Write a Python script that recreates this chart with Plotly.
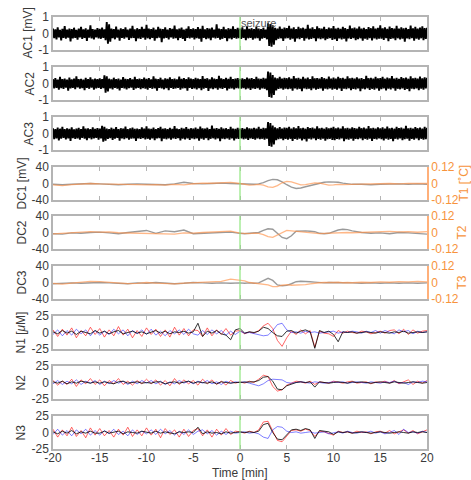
import plotly.graph_objects as go

# ---------------- data ----------------
# AC signals: local maxima (hi) and minima (lo) per 0.25-min bin, from -20 to 20 min [mV]
ac_start, ac_step, ac_n = -20.0, 0.25, 161
t_ac = [ac_start + ac_step * i for i in range(ac_n)]
ac_half = ac_step / 2  # minimum sits between consecutive maxima

ac1_hi = [0.30,0.25,0.38,0.22,0.28,0.45,0.24,0.30,0.26,0.35,0.22,0.29,0.40,0.25,0.31,0.23,0.50,0.27,0.24,0.33,
          0.28,0.36,0.25,0.70,0.55,0.30,0.26,0.42,0.24,0.31,0.27,0.38,0.23,0.29,0.46,0.25,0.32,0.26,0.40,0.28,
          0.52,0.30,0.27,0.35,0.24,0.41,0.29,0.26,0.37,0.23,0.33,0.28,0.48,0.25,0.30,0.36,0.24,0.29,0.43,0.27,
          0.31,0.26,0.39,0.28,0.47,0.25,0.33,0.29,0.36,0.24,0.55,0.30,0.27,0.41,0.25,0.32,0.28,0.44,0.26,0.34,
          0.29,0.37,0.25,0.43,0.28,0.32,0.26,0.39,0.30,0.27,0.35,0.24,0.62,0.58,0.50,0.35,0.30,0.42,0.28,0.36,
          0.33,0.46,0.29,0.38,0.27,0.41,0.31,0.35,0.28,0.52,0.30,0.37,0.26,0.44,0.32,0.29,0.40,0.27,0.36,0.31,
          0.45,0.30,0.34,0.28,0.40,0.33,0.27,0.48,0.31,0.36,0.29,0.42,0.30,0.35,0.27,0.39,0.32,0.44,0.29,0.34,
          0.50,0.31,0.37,0.28,0.42,0.33,0.30,0.46,0.29,0.38,0.32,0.35,0.27,0.48,0.31,0.40,0.29,0.36,0.44,0.33,
          0.35]
ac1_lo = [-0.28,-0.36,-0.24,-0.42,-0.27,-0.31,-0.25,-0.48,-0.29,-0.26,-0.38,-0.23,-0.33,-0.27,-0.45,-0.25,-0.30,-0.36,-0.24,-0.29,
          -0.32,-0.26,-0.40,-0.62,-0.50,-0.28,-0.35,-0.25,-0.44,-0.27,-0.31,-0.24,-0.39,-0.28,-0.26,-0.47,-0.29,-0.33,-0.25,-0.37,
          -0.29,-0.34,-0.26,-0.43,-0.28,-0.25,-0.52,-0.30,-0.27,-0.36,-0.24,-0.31,-0.28,-0.40,-0.26,-0.33,-0.45,-0.27,-0.30,-0.25,
          -0.36,-0.28,-0.31,-0.49,-0.26,-0.34,-0.29,-0.41,-0.25,-0.30,-0.27,-0.38,-0.32,-0.26,-0.46,-0.29,-0.35,-0.27,-0.31,-0.28,
          -0.33,-0.27,-0.40,-0.29,-0.26,-0.37,-0.30,-0.28,-0.44,-0.31,-0.27,-0.35,-0.75,-0.80,-0.68,-0.40,-0.32,-0.29,-0.45,-0.30,
          -0.28,-0.38,-0.31,-0.50,-0.29,-0.34,-0.27,-0.43,-0.30,-0.36,-0.33,-0.28,-0.47,-0.30,-0.35,-0.29,-0.41,-0.32,-0.28,-0.39,
          -0.34,-0.45,-0.29,-0.36,-0.31,-0.48,-0.30,-0.33,-0.28,-0.40,-0.35,-0.29,-0.44,-0.31,-0.37,-0.28,-0.42,-0.30,-0.36,-0.32,
          -0.31,-0.39,-0.28,-0.46,-0.33,-0.30,-0.41,-0.29,-0.36,-0.32,-0.50,-0.30,-0.34,-0.28,-0.43,-0.31,-0.37,-0.29,-0.40,-0.33,
          -0.31]
ac2_hi = [0.26,0.32,0.24,0.40,0.27,0.29,0.23,0.36,0.25,0.30,0.43,0.26,0.28,0.24,0.34,0.27,0.38,0.25,0.29,0.26,
          0.31,0.27,0.50,0.44,0.29,0.25,0.35,0.27,0.30,0.24,0.39,0.28,0.26,0.33,0.25,0.41,0.27,0.30,0.26,0.36,
          0.28,0.33,0.25,0.44,0.29,0.27,0.35,0.24,0.31,0.28,0.38,0.26,0.30,0.25,0.42,0.28,0.32,0.26,0.37,0.29,
          0.27,0.35,0.30,0.26,0.45,0.28,0.32,0.25,0.38,0.29,0.27,0.47,0.31,0.26,0.34,0.28,0.40,0.27,0.30,0.33,
          0.28,0.31,0.26,0.36,0.29,0.33,0.27,0.40,0.30,0.28,0.34,0.29,0.72,0.66,0.52,0.36,0.31,0.40,0.29,0.35,
          0.32,0.38,0.29,0.45,0.31,0.34,0.28,0.40,0.30,0.36,0.27,0.43,0.31,0.33,0.29,0.39,0.32,0.28,0.42,0.30,
          0.36,0.29,0.41,0.32,0.35,0.28,0.44,0.31,0.34,0.29,0.38,0.30,0.33,0.27,0.46,0.32,0.35,0.29,0.40,0.31,
          0.33,0.40,0.29,0.36,0.31,0.45,0.30,0.34,0.28,0.39,0.32,0.36,0.29,0.43,0.31,0.35,0.30,0.42,0.32,0.37,
          0.34]
ac2_lo = [-0.30,-0.26,-0.38,-0.28,-0.33,-0.25,-0.44,-0.29,-0.27,-0.35,-0.24,-0.31,-0.28,-0.40,-0.26,-0.32,-0.25,-0.37,-0.29,-0.27,
          -0.33,-0.28,-0.55,-0.48,-0.30,-0.36,-0.27,-0.31,-0.42,-0.26,-0.29,-0.35,-0.28,-0.25,-0.39,-0.30,-0.27,-0.34,-0.28,-0.31,
          -0.38,-0.27,-0.32,-0.29,-0.44,-0.26,-0.30,-0.35,-0.28,-0.41,-0.27,-0.33,-0.29,-0.26,-0.37,-0.30,-0.28,-0.43,-0.27,-0.32,
          -0.29,-0.36,-0.28,-0.40,-0.31,-0.27,-0.45,-0.30,-0.34,-0.28,-0.38,-0.29,-0.33,-0.27,-0.42,-0.31,-0.29,-0.36,-0.28,-0.30,
          -0.31,-0.28,-0.35,-0.30,-0.39,-0.29,-0.33,-0.28,-0.37,-0.30,-0.32,-0.41,-0.82,-0.86,-0.70,-0.42,-0.33,-0.30,-0.38,-0.31,
          -0.35,-0.31,-0.43,-0.30,-0.36,-0.32,-0.46,-0.29,-0.34,-0.31,-0.40,-0.30,-0.37,-0.33,-0.29,-0.44,-0.31,-0.35,-0.30,-0.38,
          -0.32,-0.37,-0.30,-0.45,-0.31,-0.34,-0.29,-0.41,-0.33,-0.36,-0.30,-0.47,-0.31,-0.35,-0.29,-0.39,-0.32,-0.37,-0.30,-0.43,
          -0.34,-0.30,-0.42,-0.31,-0.36,-0.29,-0.44,-0.32,-0.35,-0.30,-0.39,-0.33,-0.46,-0.31,-0.34,-0.29,-0.41,-0.32,-0.37,-0.30,
          -0.33]
ac3_hi = [0.32,0.27,0.36,0.29,0.41,0.26,0.31,0.28,0.38,0.25,0.30,0.34,0.27,0.44,0.29,0.31,0.26,0.37,0.28,0.33,
          0.29,0.46,0.40,0.30,0.27,0.35,0.28,0.39,0.26,0.32,0.29,0.42,0.27,0.31,0.36,0.28,0.30,0.26,0.38,0.29,
          0.44,0.30,0.28,0.36,0.27,0.33,0.40,0.29,0.31,0.26,0.35,0.28,0.45,0.30,0.27,0.34,0.29,0.39,0.28,0.32,
          0.30,0.36,0.28,0.42,0.31,0.29,0.35,0.27,0.48,0.30,0.33,0.28,0.38,0.29,0.32,0.27,0.41,0.30,0.28,0.34,
          0.30,0.33,0.28,0.37,0.31,0.29,0.35,0.30,0.40,0.28,0.34,0.31,0.70,0.64,0.48,0.37,0.32,0.39,0.30,0.36,
          0.34,0.41,0.30,0.37,0.32,0.45,0.31,0.35,0.29,0.39,0.33,0.36,0.30,0.43,0.32,0.34,0.29,0.38,0.31,0.35,
          0.40,0.31,0.36,0.29,0.43,0.32,0.35,0.30,0.38,0.33,0.29,0.41,0.32,0.36,0.30,0.45,0.31,0.34,0.29,0.37,
          0.31,0.38,0.30,0.42,0.32,0.35,0.29,0.40,0.33,0.36,0.30,0.47,0.31,0.34,0.29,0.39,0.32,0.36,0.30,0.41,
          0.35]
ac3_lo = [-0.34,-0.29,-0.42,-0.31,-0.27,-0.36,-0.30,-0.45,-0.28,-0.33,-0.29,-0.38,-0.27,-0.31,-0.40,-0.28,-0.35,-0.30,-0.27,-0.37,
          -0.30,-0.50,-0.44,-0.33,-0.28,-0.39,-0.31,-0.27,-0.43,-0.30,-0.34,-0.28,-0.37,-0.31,-0.29,-0.45,-0.30,-0.33,-0.28,-0.36,
          -0.32,-0.37,-0.29,-0.41,-0.30,-0.28,-0.47,-0.31,-0.35,-0.29,-0.38,-0.30,-0.33,-0.28,-0.42,-0.31,-0.36,-0.29,-0.39,-0.30,
          -0.35,-0.30,-0.44,-0.31,-0.37,-0.28,-0.40,-0.32,-0.29,-0.36,-0.30,-0.46,-0.31,-0.34,-0.29,-0.38,-0.30,-0.42,-0.31,-0.33,
          -0.30,-0.35,-0.31,-0.39,-0.29,-0.33,-0.37,-0.30,-0.34,-0.32,-0.38,-0.31,-0.76,-0.80,-0.66,-0.41,-0.34,-0.31,-0.40,-0.33,
          -0.37,-0.32,-0.45,-0.33,-0.38,-0.31,-0.42,-0.34,-0.48,-0.32,-0.36,-0.30,-0.40,-0.33,-0.37,-0.31,-0.44,-0.34,-0.32,-0.39,
          -0.41,-0.33,-0.36,-0.30,-0.46,-0.34,-0.38,-0.31,-0.43,-0.33,-0.35,-0.30,-0.40,-0.32,-0.37,-0.31,-0.45,-0.33,-0.36,-0.30,
          -0.35,-0.42,-0.31,-0.38,-0.33,-0.47,-0.32,-0.36,-0.30,-0.40,-0.34,-0.31,-0.44,-0.33,-0.37,-0.30,-0.41,-0.32,-0.38,-0.34,
          -0.32]

# DC potentials [mV] and temperatures [deg C]
t_dc = [-20,-19,-18,-17,-16,-15,-14,-13,-12,-11,-10,-9,-8,-7,-6,-5,-4,-3,-2,-1,0,
        0.5,1,1.5,2,2.5,3,3.5,4,4.5,5,5.5,6,6.5,7,7.5,8,8.5,9,9.5,10,10.5,11,11.5,12,
        13,14,15,16,17,18,19,20]
dc1 = [-2,-3,-2,-1,0,-1,-2,-3,-2,-1,-2,-3,-3,-1,3,0,-1,0,1,0,-1,
       -1,-2,-2,-1,2,7,10,9,4,-3,-9,-12,-11,-8,-5,-2,1,3,4,4,3,1,-1,-2,
       -2,-3,-2,-1,-1,-2,-1,-2]
t1 = [-0.010,-0.015,-0.008,-0.002,0.000,-0.003,-0.005,-0.006,-0.004,-0.007,-0.010,-0.008,-0.012,-0.006,-0.010,-0.002,0.003,0.002,0.005,0.008,0.000,
      -0.008,-0.012,-0.010,-0.006,-0.012,-0.025,-0.028,-0.015,0.005,0.015,0.012,0.000,-0.010,-0.008,-0.002,0.005,0.002,-0.005,-0.012,-0.010,-0.006,-0.008,-0.005,-0.006,
      -0.004,-0.005,-0.002,0.000,-0.003,0.001,-0.002,0.000]
dc2 = [-3,-4,-1,-2,0,1,-1,-3,0,3,5,-2,4,2,6,-3,-2,-1,0,1,-2,
       -3,-2,-1,0,5,9,8,-2,-12,-15,-8,3,4,4,3,2,-2,-3,-2,2,6,8,7,4,
       0,-2,-1,-3,0,-1,-2,-4]
t2 = [-0.010,-0.006,0.000,0.004,0.006,0.003,0.005,-0.002,-0.004,-0.006,-0.004,-0.010,-0.008,-0.012,-0.003,-0.005,0.000,0.004,0.006,0.010,-0.004,
      -0.006,-0.008,-0.004,-0.006,-0.015,-0.030,-0.035,-0.020,0.000,0.015,0.012,0.008,0.006,0.004,0.000,-0.004,-0.008,-0.006,-0.004,-0.002,0.000,0.002,0.000,-0.002,
      0.000,0.004,0.006,0.008,0.004,0.006,0.002,0.006]
dc3 = [-3,-2,-1,-2,-1,0,-1,-2,-3,-1,-2,0,-1,-3,-2,0,-1,-2,-1,-2,-1,
       -2,-1,-2,-1,4,10,5,-6,-8,-7,-3,2,3,3,2,1,0,-1,0,0,-1,-1,0,-1,
       -2,-1,-2,-1,-2,-1,-2,-1]
t3 = [-0.006,-0.012,-0.004,0.004,0.008,0.006,0.002,-0.004,-0.008,-0.006,0.000,-0.004,-0.008,-0.010,-0.004,0.000,0.004,0.006,0.008,0.025,0.015,
      0.012,0.000,-0.004,-0.008,-0.010,-0.018,-0.030,-0.030,-0.020,-0.015,-0.020,-0.018,-0.020,-0.016,-0.010,-0.004,-0.002,0.000,-0.002,0.000,0.002,-0.002,0.000,-0.002,
      0.002,0.000,0.004,0.002,0.006,0.004,0.008,0.004]

# N traces [uM], sampled every 0.5 min from -20 to 20
n_start, n_step, n_n = -20.0, 0.5, 81
t_n = [n_start + n_step * i for i in range(n_n)]
n1_red = [4,-6,5,-4,7,-8,3,-5,8,-3,
          6,-7,4,-5,9,-4,5,-8,3,-6,
          7,-3,5,-6,4,-7,8,-4,6,-5,
          4,3,-6,7,-5,4,-3,6,-4,2,
          3,-2,1,-1,3,10,14,6,-12,-21,
          -8,2,-3,4,-2,3,-22,2,-1,-2,
          -6,3,-1,2,0,-1,2,1,-2,0,
          2,-1,3,4,-2,5,-3,4,-1,2,
          3]
n1_blue = [-3,4,-5,3,-4,5,-2,4,-5,3,
           -4,2,-3,5,-2,4,-5,3,-2,4,
           -3,5,-4,2,-5,3,-2,4,-3,5,
           -2,-4,3,-3,4,-2,3,-4,2,-3,
           2,-1,0,-2,-3,-5,-4,3,12,14,
           4,0,1,-1,2,0,1,-1,0,1,
           2,-1,1,0,2,1,-1,2,0,3,
           -1,3,0,-2,4,1,3,-2,2,0,
           1]
n1_black = [1,-2,3,-1,2,-3,2,0,-2,3,
            -1,2,-2,1,3,-2,0,2,-1,1,
            -2,1,3,-1,2,-2,1,0,2,-1,
            1,14,-6,2,-1,3,-2,-4,-11,4,
            6,-1,1,0,2,8,6,0,-5,-6,
            2,3,-1,2,4,1,-24,3,0,2,
            -3,-14,1,0,1,-1,0,1,0,-1,
            1,0,-1,1,0,2,-1,0,1,0,
            1]
n2_red = [3,-4,2,-3,5,-6,4,-2,6,-3,
          4,-5,3,-2,6,-3,2,-4,3,-2,
          5,-2,4,-4,3,-5,6,-3,4,-2,
          3,-4,5,-2,4,-3,2,-4,3,-1,
          1,-1,2,0,5,11,9,-6,-13,-11,
          -4,-1,2,1,-1,2,-3,1,0,-1,
          2,0,-1,1,2,-1,0,1,-2,1,
          0,2,-1,3,-2,1,4,-3,2,-1,
          3]
n2_blue = [-2,3,-3,2,-2,4,-3,2,-1,3,
           -3,2,-2,3,-1,2,-3,2,-2,3,
           -1,3,-2,2,-3,1,-2,3,-1,2,
           -2,2,-1,3,-2,1,-3,2,-1,1,
           0,1,-1,-3,-5,-2,3,5,5,4,
           0,-1,0,1,0,-1,1,0,-1,0,
           1,0,1,-1,0,1,0,-1,1,0,
           -1,1,0,2,-1,0,-3,1,0,2,
           1]
n2_black = [1,-1,2,-2,1,-1,2,0,-1,1,
            -1,1,0,-2,1,2,-1,0,1,-1,
            0,-1,1,1,-2,0,1,-1,0,2,
            -1,1,0,-1,1,-2,1,0,-1,0,
            0,1,0,1,3,8,9,2,-10,-11,
            -5,-2,0,1,0,1,-7,1,0,-1,
            0,1,0,-1,1,0,1,0,-1,0,
            1,0,-1,1,0,-1,0,1,0,-1,
            0]
n3_red = [5,-7,4,-5,8,-6,3,-8,7,-4,
          6,-5,3,-7,5,-4,8,-6,4,-5,
          7,-4,5,-8,6,-3,4,-7,5,-6,
          3,6,-5,4,-7,5,-4,6,-3,2,
          1,-1,2,0,4,16,17,2,-12,-14,
          -6,3,4,2,5,3,-6,2,1,-2,
          -4,2,0,1,-1,2,0,1,-2,1,
          2,-1,3,-2,1,4,-1,3,-2,1,
          4]
n3_blue = [-3,5,-4,3,-5,4,-2,5,-4,3,
           -4,3,-2,5,-3,2,-5,4,-3,2,
           -2,4,-3,5,-2,3,-4,2,-3,4,
           -3,2,4,-2,3,-4,2,-3,2,-1,
           0,1,-1,0,-2,-7,-9,4,9,8,
           2,0,1,-1,0,1,-1,0,1,-2,
           0,1,-1,2,0,-1,1,0,2,-1,
           1,-2,0,3,-3,5,0,1,-1,2,
           0]
n3_black = [1,-2,2,-1,3,-2,1,-1,2,-1,
            -1,2,-1,1,2,-2,1,0,-1,2,
            0,-1,2,-1,1,0,-2,1,0,1,
            0,8,-2,1,-1,0,-2,1,-1,0,
            1,0,1,0,2,12,14,0,-10,-11,
            -3,4,5,3,6,4,-9,3,2,1,
            -3,1,0,1,-1,0,1,0,-1,0,
            1,0,-1,0,1,0,-1,1,0,1,
            0]

seizure_onset = 0
x_ticks = [-20, -15, -10, -5, 0, 5, 10, 15, 20]
x_tick_text = ["-20", "-15", "-10", "-5", "0", "5", "10", "15", "20"]

for arr in [ac1_hi, ac1_lo, ac2_hi, ac2_lo, ac3_hi, ac3_lo]:
    assert len(arr) == len(t_ac), len(arr)
for arr in [n1_red, n1_blue, n1_black, n2_red, n2_blue, n2_black, n3_red, n3_blue, n3_black]:
    assert len(arr) == len(t_n), len(arr)
for arr in [dc1, dc2, dc3, t1, t2, t3]:
    assert len(arr) == len(t_dc), len(arr)

# ---------------- figure ----------------
W, H = 471, 480
ML, MR = 53, 44
tops = [17, 67, 117, 167, 216, 266, 316, 366, 416]
ph = 33
FONT = "Liberation Sans, Arial, Helvetica, sans-serif"
TXT = "#3a3a3a"
FRAME = "#b4b4b4"
ORANGE_TXT = "#f7933c"
ORANGE = "rgba(255,145,70,0.65)"
GRAY = "rgba(120,120,120,0.75)"
RED = "rgba(255,0,0,0.6)"
BLUE = "rgba(0,0,255,0.5)"
BLACK = "rgba(0,0,0,0.8)"
GREEN = "#8fe67f"

fig = go.Figure()

def ax(i):
    return "" if i == 1 else str(i)

# AC panels: signal drawn through its alternating local maxima and minima
for i, (hi, lo) in enumerate([(ac1_hi, ac1_lo), (ac2_hi, ac2_lo), (ac3_hi, ac3_lo)], start=1):
    xs, ys = [], []
    for t, h, l in zip(t_ac, hi, lo):
        xs += [t, t + ac_half]
        ys += [h, l]
    fig.add_trace(go.Scatter(x=xs, y=ys, mode="lines", line=dict(color="black", width=1.9),
                             xaxis="x" + ax(i), yaxis="y" + ax(i)))

# DC panels
for k, (dc, tt) in enumerate([(dc1, t1), (dc2, t2), (dc3, t3)]):
    i = 4 + k
    fig.add_trace(go.Scatter(x=t_dc, y=dc, mode="lines", line=dict(color=GRAY, width=1.4),
                             xaxis="x" + ax(i), yaxis="y" + ax(i)))
    fig.add_trace(go.Scatter(x=t_dc, y=tt, mode="lines", line=dict(color=ORANGE, width=1.3),
                             xaxis="x" + ax(i), yaxis="y" + str(10 + k)))

# N panels
for k, (r, b, bk) in enumerate([(n1_red, n1_blue, n1_black), (n2_red, n2_blue, n2_black),
                                (n3_red, n3_blue, n3_black)]):
    i = 7 + k
    for vals, col in [(r, RED), (b, BLUE), (bk, BLACK)]:
        fig.add_trace(go.Scatter(x=t_n, y=vals, mode="lines", line=dict(color=col, width=1),
                                 xaxis="x" + ax(i), yaxis="y" + ax(i)))

layout = dict(width=W, height=H, margin=dict(l=ML, r=MR, t=0, b=0, autoexpand=False),
              paper_bgcolor="white", plot_bgcolor="white", showlegend=False,
              font=dict(family=FONT, size=11, color=TXT))

yranges = {1: [-1.001, 1.001], 2: [-1.001, 1.001], 3: [-1.001, 1.001],
           4: [-40.01, 40.01], 5: [-40.01, 40.01], 6: [-40.01, 40.01],
           7: [-25.01, 25.01], 8: [-25.01, 25.01], 9: [-25.01, 25.01]}
yticks = {1: [-1, 0, 1], 4: [-40, 0, 40], 7: [-25, 0, 25]}

for i in range(1, 10):
    top = tops[i - 1]
    dom = [(H - top - ph) / H, (H - top) / H]
    xa = dict(domain=[0, 1], anchor="y" + ax(i), range=[-20, 20], showgrid=False, zeroline=False,
              showline=True, linecolor=FRAME, linewidth=1.5, mirror="ticks", ticks="inside",
              ticklen=4, tickcolor=FRAME, tickvals=x_ticks, ticktext=x_tick_text,
              showticklabels=(i == 9), tickfont=dict(size=12, color=TXT), automargin=False)
    if i != 1:
        xa["matches"] = "x"
    if i == 9:
        xa["ticklabelstandoff"] = -3
    layout["xaxis" + ax(i)] = xa
    tv = yticks[1] if i <= 3 else (yticks[4] if i <= 6 else yticks[7])
    ya = dict(domain=dom, anchor="x" + ax(i), range=yranges[i], showgrid=False, zeroline=False,
              showline=True, linecolor=FRAME, linewidth=1.5, mirror=(i < 4 or i > 6),
              ticks="", tickvals=tv, ticktext=[str(v) for v in tv],
              tickfont=dict(size=12, color=TXT), automargin=False)
    layout["yaxis" + ax(i)] = ya

for k in range(3):
    i = 4 + k
    layout["yaxis" + str(10 + k)] = dict(
        overlaying="y" + ax(i), anchor="x" + ax(i), side="right", range=[-0.1201, 0.1201],
        showgrid=False, zeroline=False, showline=True, linecolor="#ffb07a", linewidth=1.5,
        ticks="", tickvals=[-0.12, 0, 0.12], ticktext=["-0.12", "0", "0.12"],
        tickfont=dict(size=12, color=ORANGE_TXT), automargin=False)

fig.update_layout(**layout)

# seizure onset line
for i in range(1, 10):
    fig.add_shape(type="line", x0=seizure_onset, x1=seizure_onset, y0=0, y1=1,
                  xref="x" + ax(i), yref="y" + ax(i) + " domain",
                  line=dict(color=GREEN, width=1.2), layer="above")

fig.add_annotation(x=seizure_onset, y=1, xref="x", yref="y domain", text="seizure",
                   showarrow=False, xanchor="left", yanchor="top", xshift=-1, yshift=2,
                   font=dict(size=11, color="#555555"))

pw = W - ML - MR
# x-axis title
fig.add_annotation(x=0.5, y=(H - 473) / H, xref="paper", yref="paper", text="Time [min]",
                   showarrow=False, xanchor="center", yanchor="middle",
                   font=dict(size=12, color=TXT))

# y-axis titles
left_titles = ["AC1 [mV]", "AC2", "AC3", "DC1 [mV]", "DC2", "DC3",
               "N1 [<i>μ</i>M]", "N2", "N3"]
left_x = [27, 29, 29, 21, 21, 21, 21, 20, 20]
for i in range(9):
    yc = (H - tops[i] - ph / 2) / H
    fig.add_annotation(x=(left_x[i] - ML) / pw, y=yc, xref="paper", yref="paper",
                       text=left_titles[i], textangle=-90, showarrow=False,
                       xanchor="center", yanchor="middle", font=dict(size=12, color=TXT))
right_titles = ["T1 [˚C]", "T2", "T3"]
right_x = [463, 461, 461]
for k in range(3):
    i = 3 + k
    yc = (H - tops[i] - ph / 2) / H
    fig.add_annotation(x=(right_x[k] - ML) / pw, y=yc, xref="paper", yref="paper",
                       text=right_titles[k], textangle=-90, showarrow=False,
                       xanchor="center", yanchor="middle", font=dict(size=12, color=ORANGE_TXT))

fig.write_html("out.html", config={"displayModeBar": False},
               post_script="document.body.style.margin='0px';")
